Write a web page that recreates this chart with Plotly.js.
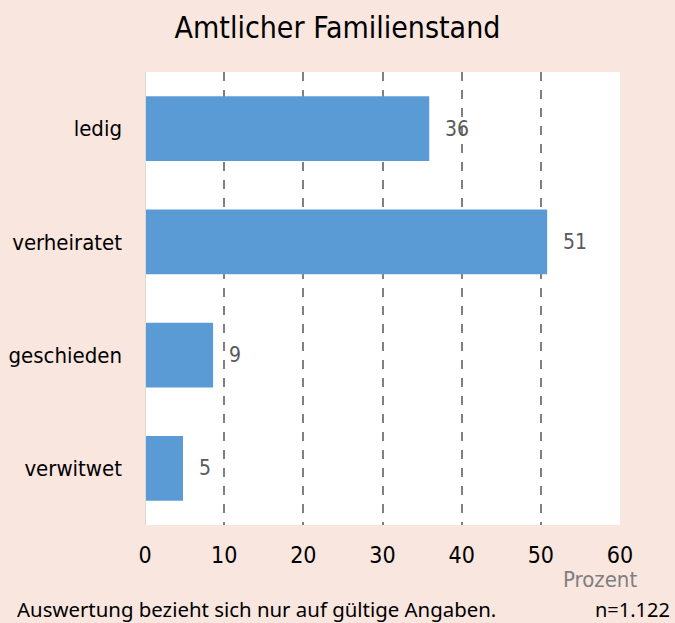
<!DOCTYPE html>
<html>
<head>
<meta charset="utf-8">
<script src="https://cdn.plot.ly/plotly-3.0.1.min.js"></script>
<style>html,body{margin:0;padding:0;background:#f9e6df;}#chart{width:675px;height:623px;}</style>
</head>
<body>
<div id="chart"></div>
<script>
var categories = ["ledig", "verheiratet", "geschieden", "verwitwet"];
var values = [35.9, 50.8, 8.6, 4.8];
var valueLabels = ["36", "51", "9", "5"];
var xTicks = [0, 10, 20, 30, 40, 50, 60];

var FONT = "Liberation Sans Narrow, DejaVu Sans Condensed, Roboto, sans-serif";
var FOOT = "Noto Sans, Open Sans, sans-serif";

var trace = {
  type: "bar",
  orientation: "h",
  y: categories,
  x: values,
  marker: {color: "#5b9bd5"},
  hoverinfo: "none"
};

var annotations = categories.map(function (c, i) {
  return {
    x: values[i], y: c, xref: "x", yref: "y",
    text: valueLabels[i], showarrow: false,
    xanchor: "left", xshift: 14,
    font: {family: FONT, size: 21, color: "#595959"}
  };
});
annotations.push({
  x: 1.04, y: -0.12, xref: "paper", yref: "paper", xanchor: "right", yanchor: "middle",
  text: "Prozent", showarrow: false,
  font: {family: FONT, size: 22, color: "#7f7f7f"}
});
annotations.push({
  x: -0.274, y: -0.186, xref: "paper", yref: "paper", xanchor: "left", yanchor: "middle",
  text: "Auswertung bezieht sich nur auf gültige Angaben.", showarrow: false,
  font: {family: FOOT, size: 20.4, color: "#000000"}
});
annotations.push({
  x: 1.109, y: -0.186, xref: "paper", yref: "paper", xanchor: "right", yanchor: "middle",
  text: "n=1.122", showarrow: false,
  font: {family: FOOT, size: 20, color: "#000000"}
});

var layout = {
  width: 675, height: 623,
  paper_bgcolor: "#f9e6df",
  plot_bgcolor: "#ffffff",
  margin: {l: 145, r: 55, t: 72, b: 98},
  title: {text: "Amtlicher Familienstand", x: 0.5, xref: "container", y: 0.956, yref: "container", yanchor: "middle",
          font: {family: FONT, size: 30, color: "#000000"}},
  bargap: 0.43,
  showlegend: false,
  xaxis: {
    range: [0, 60], tickvals: xTicks, ticktext: xTicks.map(String),
    showgrid: true, gridcolor: "#808080", griddash: "dash", gridwidth: 2,
    zeroline: false, showline: false, ticks: "",
    tickfont: {family: FONT, size: 23, color: "#000000"},
    ticklabelstandoff: 14, fixedrange: true
  },
  yaxis: {
    autorange: "reversed", type: "category",
    showgrid: false, zeroline: false, showline: false, ticks: "",
    tickfont: {family: FONT, size: 22, color: "#000000"},
    ticklabelstandoff: 22, fixedrange: true
  },
  shapes: [{type: "line", xref: "x", yref: "paper", x0: 0, x1: 0, y0: 0, y1: 1,
            line: {color: "#d9d9d9", width: 2}}],
  annotations: annotations
};

Plotly.newPlot("chart", [trace], layout, {displayModeBar: false, staticPlot: true});
</script>
</body>
</html>
